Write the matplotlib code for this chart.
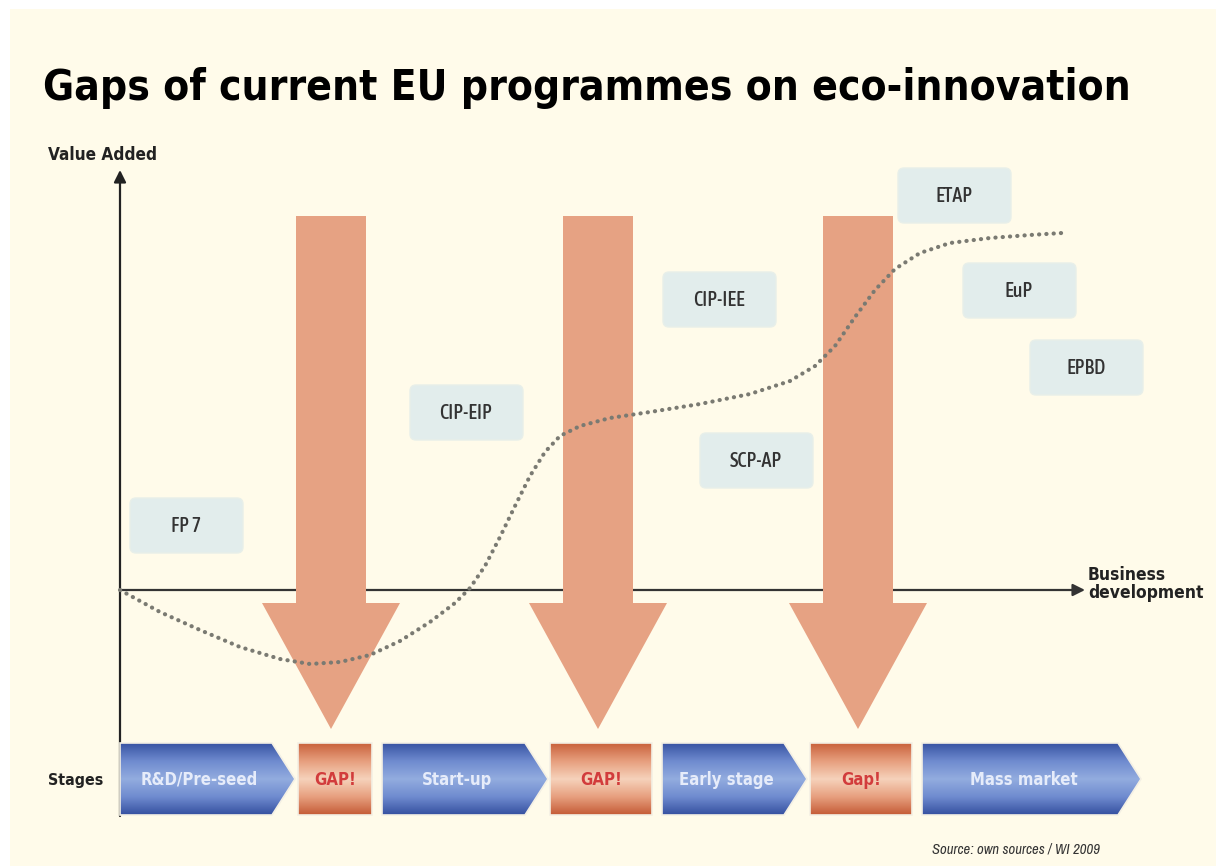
import matplotlib
matplotlib.use('Agg')
import matplotlib.pyplot as plt
from matplotlib import font_manager
from matplotlib.font_manager import FontProperties
from matplotlib.patches import Polygon, FancyBboxPatch, Rectangle
from matplotlib.colors import LinearSegmentedColormap
import numpy as np

# stages along the bottom
stage_labels = ['R&D/Pre-seed', 'GAP!', 'Start-up', 'GAP!', 'Early stage', 'Gap!', 'Mass market']
stage_is_gap = [False, True, False, True, False, True, False]
stage_left = [120, 298, 382, 550, 662, 810, 922]
stage_right = [295, 372, 548, 652, 807, 912, 1141]

# EU programmes
programmes = ['FP 7', 'CIP-EIP', 'CIP-IEE', 'SCP-AP', 'ETAP', 'EuP', 'EPBD']
prog_left = [130, 410, 663, 700, 898, 963, 1030]
prog_top = [498, 385, 272, 433, 168, 263, 340]

# big gap arrows (centre x)
gap_arrow_x = [331, 598, 858]

# value added curve
curve_x = [120, 160, 200, 240, 280, 310, 340, 370, 400, 430, 455, 470, 485, 500, 515, 530,
           545, 560, 580, 610, 650, 700, 750, 790, 815, 835, 855, 875, 895, 920, 950, 990,
           1030, 1062]
curve_y = [590, 612, 630, 647, 659, 664, 662, 655, 641, 622, 603, 588, 566, 537, 506, 476,
           452, 436, 426, 418, 412, 404, 394, 381, 366, 346, 317, 290, 269, 253, 243, 238,
           235, 233]

W, H = 1216, 866


# the original uses a condensed sans, pick condensed faces if any are installed
def wnum(w):
    return w if isinstance(w, (int, float)) else font_manager.weight_dict.get(w, 400)


cands = [f for f in font_manager.fontManager.ttflist
         if ('narrow' in f.name.lower() or 'condensed' in f.name.lower()
             or 'condensed' in str(f.stretch).lower())
         and 'serif' not in f.name.lower() and 'mono' not in f.name.lower()]


def pick(weight, style):
    best = [f for f in cands if f.style == style]
    if not best:
        return None
    best.sort(key=lambda f: abs(wnum(f.weight) - weight))
    return best[0].fname


def fp(weight=400, style='normal'):
    fn = pick(weight, style)
    if fn:
        return FontProperties(fname=fn)
    return FontProperties(family='Roboto', weight=weight, style=style)


F_BOLD = fp(700)
F_REG = fp(500)
F_IT = fp(400, 'italic')

fig = plt.figure(figsize=(W / 100, H / 100), dpi=100, facecolor='white')
ax = fig.add_axes([0, 0, 1, 1])
ax.set_axis_off()

cream = '#fffbea'
ax.add_patch(Rectangle((10, 9), W - 10, H - 9, facecolor=cream, edgecolor='none', zorder=0))


def label(x, y, s, prop, size, width=None, **kw):
    p = prop.copy()
    p.set_size(size)
    t = ax.text(x, y, s, fontproperties=p, **kw)
    if width:
        fig.canvas.draw()
        w = t.get_window_extent().width
        p.set_size(size * width / w)
        t.set_fontproperties(p)
    return t


# title
label(43, 100, 'Gaps of current EU programmes on eco-innovation', F_BOLD, 44, 1087,
      va='baseline', ha='left', color='black', zorder=5)

label(48, 155, 'Value Added', F_BOLD, 12, 109, ha='left', va='center', color='#222222')
label(48, 780, 'Stages', F_BOLD, 13, 55, ha='left', va='center', color='#222222')
label(1088, 584, 'Business\ndevelopment', F_BOLD, 13, 115, ha='left', va='center',
      color='#222222', linespacing=0.95)
label(1100, 850, 'Source: own sources / WI 2009', F_IT, 9, 168, ha='right', va='center',
      color='#333333')

# axes
ax.annotate('', xy=(120, 170), xytext=(120, 816),
            arrowprops=dict(arrowstyle='-|>', color='#222222', lw=1.6, mutation_scale=18,
                            shrinkA=0, shrinkB=0), zorder=2)
ax.annotate('', xy=(1085, 590), xytext=(120, 590),
            arrowprops=dict(arrowstyle='-|>', color='#333333', lw=1.6, mutation_scale=18,
                            shrinkA=0, shrinkB=0), zorder=2)

# gap arrows
for cx in gap_arrow_x:
    pts = [(cx - 35, 216), (cx + 35, 216), (cx + 35, 603), (cx + 69, 603), (cx, 729),
           (cx - 69, 603), (cx - 35, 603)]
    ax.add_patch(Polygon(pts, closed=True, facecolor='#e6a283', edgecolor='none', zorder=3))

# programme boxes
for name, x0, y0 in zip(programmes, prog_left, prog_top):
    ax.add_patch(FancyBboxPatch((x0 + 4, y0 + 4), 105, 47, boxstyle='round,pad=4,rounding_size=6',
                                facecolor='#e2edec', edgecolor='#e8efe9', lw=1, zorder=4))
    label(x0 + 56, y0 + 28, name, F_REG, 14.5, ha='center', va='center',
          color='#333333', zorder=5)

# curve
ax.plot(curve_x, curve_y, color='#7a7a72', lw=3.0, linestyle=(0, (0.05, 1.7)),
        dash_capstyle='round', solid_capstyle='round', zorder=6)

# stages
blue_cmap = LinearSegmentedColormap.from_list('b', ['#3954a3', '#6f8bcf', '#93acdf', '#6f8bcf', '#3550a0'])
gap_cmap = LinearSegmentedColormap.from_list('g', ['#c9623c', '#e79f7e', '#f6d2bb', '#e79f7e', '#c45b36'])
grad = np.linspace(0, 1, 200).reshape(-1, 1)
top, bot = 743, 815
mid = (top + bot) / 2
for name, gap, l, r in zip(stage_labels, stage_is_gap, stage_left, stage_right):
    if gap:
        pts = [(l, top), (r, top), (r, bot), (l, bot)]
        cmap, tcolor, tx = gap_cmap, '#d23c3c', (l + r) / 2
    else:
        pts = [(l, top), (r - 23, top), (r, mid), (r - 23, bot), (l, bot)]
        cmap, tcolor, tx = blue_cmap, '#e6ecfa', (l + r - 16) / 2
    poly = Polygon(pts, closed=True, facecolor='none', edgecolor='#f4f0e4', lw=1.2, zorder=8)
    ax.add_patch(poly)
    im = ax.imshow(grad, cmap=cmap, extent=(l, r, bot, top), origin='upper', aspect='auto',
                   zorder=7, interpolation='bilinear')
    im.set_clip_path(poly)
    label(tx, mid + 1, name, F_BOLD, 12, ha='center', va='center', color=tcolor, zorder=9)

ax.set_xlim(0, W)
ax.set_ylim(H, 0)
fig.savefig('out.png', dpi=100, facecolor='white')
